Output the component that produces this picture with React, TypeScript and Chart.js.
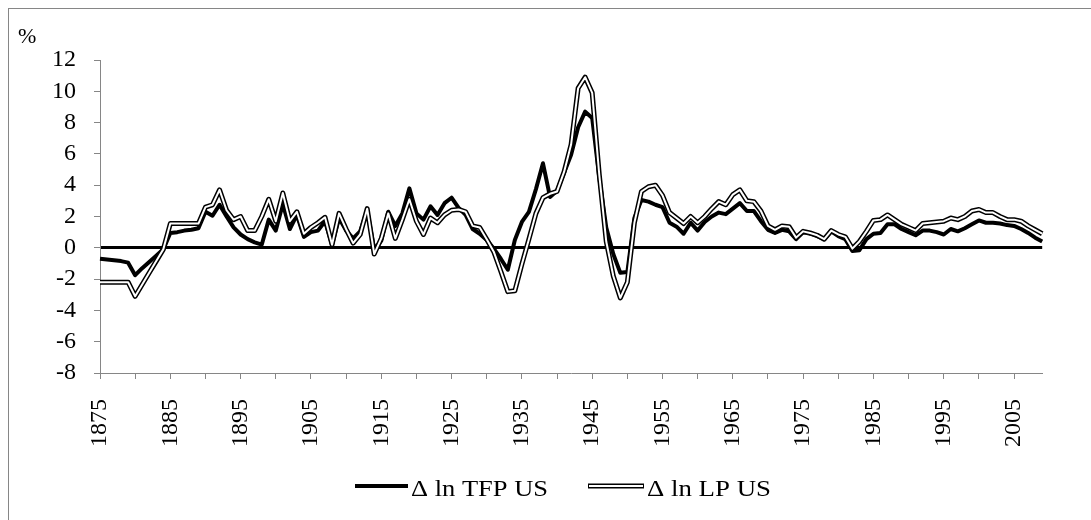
import React, { useEffect, useRef } from "react";
import { Chart, registerables } from "chart.js";

Chart.register(...registerables);

// ---------- data ----------
const START_YEAR = 1875;

// Δ ln TFP US (%), 1875–2009
const TFP_US: number[] = [
  -0.7, -0.75, -0.8, -0.85, -0.95, -1.75, -1.3, -0.9, -0.5, -0.1,
  0.95, 1.0, 1.1, 1.15, 1.25, 2.3, 2.05, 2.75, 2.0, 1.3,
  0.85, 0.55, 0.35, 0.2, 1.8, 1.1, 2.8, 1.2, 2.1, 0.7,
  1.0, 1.1, 1.7, 0.2, 1.9, 1.1, 0.6, 1.05, 2.4, -0.1,
  0.45, 2.3, 1.4, 2.2, 3.8, 2.2, 1.8, 2.65, 2.1, 2.85,
  3.2, 2.55, 2.1, 1.2, 0.9, 0.5, -0.05, -0.7, -1.4, 0.5,
  1.65, 2.3, 3.75, 5.4, 3.25, 3.65, 4.8, 5.95, 7.7, 8.7,
  8.3, 4.5, 1.3, -0.4, -1.6, -1.55, 1.9, 3.05, 2.95, 2.75,
  2.6, 1.6, 1.35, 0.9, 1.6, 1.1, 1.65, 2.0, 2.25, 2.15,
  2.5, 2.85, 2.35, 2.35, 1.7, 1.15, 0.95, 1.15, 1.05, 0.55,
  1.0, 0.9, 0.75, 0.55, 1.05, 0.75, 0.55, -0.2, -0.15, 0.55,
  0.9, 0.95, 1.5, 1.5, 1.2, 1.0, 0.8, 1.1, 1.1, 1.0,
  0.85, 1.2, 1.05, 1.25, 1.5, 1.75, 1.6, 1.6, 1.55, 1.45,
  1.4, 1.2, 0.95, 0.65, 0.4,
];

// Δ ln LP US (%), 1875–2009
const LP_US: number[] = [
  -2.2, -2.2, -2.2, -2.2, -2.2, -3.1, -2.35, -1.6, -0.85, -0.1,
  1.55, 1.55, 1.55, 1.55, 1.55, 2.6, 2.75, 3.7, 2.4, 1.8,
  2.0, 1.1, 1.1, 2.0, 3.1, 1.7, 3.5, 1.7, 2.3, 0.9,
  1.3, 1.6, 1.95, 0.2, 2.2, 1.2, 0.3, 0.85, 2.5, -0.4,
  0.6, 2.2, 0.6, 1.8, 3.1, 1.7, 0.85, 1.9, 1.6, 2.1,
  2.4, 2.45, 2.3, 1.4, 1.3, 0.55, -0.25, -1.5, -2.8, -2.75,
  -1.05, 0.55, 2.2, 3.2, 3.45, 3.6, 4.85, 6.6, 10.2, 10.9,
  9.9, 4.7, 0.4, -1.8, -3.2, -2.2, 1.6, 3.6, 3.9, 4.0,
  3.35, 2.25, 1.9, 1.55, 2.0, 1.6, 2.0, 2.5, 2.95, 2.75,
  3.4, 3.7, 3.0, 2.95, 2.35, 1.4, 1.15, 1.4, 1.35, 0.65,
  1.05, 0.95, 0.8, 0.55, 1.1, 0.85, 0.7, -0.05, 0.4, 1.05,
  1.75, 1.8, 2.1, 1.8, 1.5, 1.3, 1.1, 1.55, 1.6, 1.65,
  1.7, 1.9, 1.8, 2.0, 2.35, 2.45, 2.25, 2.25, 2.0, 1.8,
  1.8, 1.7, 1.4, 1.15, 0.9,
];

const YEARS: number[] = TFP_US.map((_, i) => START_YEAR + i);
const LABEL_EVERY = 10;
const TICK_EVERY = 5;
const Y_MIN = -8;
const Y_MAX = 12;
const Y_STEP = 2;
const TFP_NAME = "\u0394 ln TFP US";
const LP_NAME = "\u0394 ln LP US";
const UNIT = "%";

// ---------- styling ----------
const AXIS = "#868686";

function pickSerif(): { family: string; scale: number } {
  const ctx = document.createElement("canvas").getContext("2d");
  const dejavu = '"DejaVu Serif"';
  if (!ctx) return { family: dejavu, scale: 0.82 };
  const sample = "1995 %\u0394 ln TFP US 1234567890";
  const w = (f: string) => {
    ctx.font = `40px ${f}`;
    return ctx.measureText(sample).width;
  };
  const mono = w("monospace");
  const dv = w(dejavu);
  const cands = ['"Liberation Serif"', '"Times New Roman"', "Tinos", '"Nimbus Roman"', "FreeSerif", "Times"];
  for (const f of cands) {
    const x = w(`${f}, monospace`);
    if (Math.abs(x - mono) > 0.5 && Math.abs(x - dv) > 0.5) return { family: `${f}, serif`, scale: 1 };
  }
  return { family: `${dejavu}, serif`, scale: 0.82 };
}

export default function App() {
  const ref = useRef<HTMLCanvasElement>(null);

  useEffect(() => {
    const canvas = ref.current;
    if (!canvas) return;
    const { family: SERIF, scale } = pickSerif();
    const tickSize = Math.round(24 * scale);
    const unitSize = Math.round(22 * scale);
    const legendSize = Math.round(24 * scale);

    const overlay = {
      id: "overlay",
      afterDraw(c: any) {
        const ctx = c.ctx as CanvasRenderingContext2D;
        ctx.save();
        ctx.fillStyle = "#000";
        ctx.font = `${unitSize}px ${SERIF}`;
        ctx.textBaseline = "alphabetic";
        ctx.textAlign = "left";
        ctx.fillText(UNIT, 18, 43);

        const ly = 486;
        ctx.lineCap = "butt";
        ctx.strokeStyle = "#000";
        ctx.lineWidth = 4;
        ctx.beginPath();
        ctx.moveTo(355, ly);
        ctx.lineTo(408, ly);
        ctx.stroke();
        ctx.lineWidth = 5;
        ctx.beginPath();
        ctx.moveTo(588, ly);
        ctx.lineTo(644, ly);
        ctx.stroke();
        ctx.strokeStyle = "#fff";
        ctx.lineWidth = 2;
        ctx.beginPath();
        ctx.moveTo(589, ly);
        ctx.lineTo(643, ly);
        ctx.stroke();

        ctx.font = `${legendSize}px ${SERIF}`;
        ctx.fillStyle = "#000";
        const drawFit = (t: string, x: number, y: number, target: number) => {
          const m = ctx.measureText(t).width || 1;
          const sx = Math.max(0.8, Math.min(1.25, target / m));
          ctx.save();
          ctx.translate(x, y);
          ctx.scale(sx, 1);
          ctx.fillText(t, 0, 0);
          ctx.restore();
        };
        drawFit(TFP_NAME, 411, 496, 137);
        drawFit(LP_NAME, 647, 496, 124);
        ctx.restore();
      },
    };

    const chart = new Chart(canvas, {
      type: "line",
      data: {
        labels: YEARS.map(String),
        datasets: [
          {
            label: LP_NAME,
            data: LP_US,
            borderColor: "#ffffff",
            borderWidth: 2,
            pointRadius: 0,
            tension: 0,
            borderJoinStyle: "round",
            fill: false,
          },
          {
            label: LP_NAME + " (outline)",
            data: LP_US,
            borderColor: "#000000",
            borderWidth: 5,
            pointRadius: 0,
            tension: 0,
            borderJoinStyle: "round",
            fill: false,
          },
          {
            label: TFP_NAME,
            data: TFP_US,
            borderColor: "#000000",
            borderWidth: 4,
            pointRadius: 0,
            tension: 0,
            borderJoinStyle: "round",
            fill: false,
          },
        ],
      },
      options: {
        responsive: false,
        animation: false,
        devicePixelRatio: 1,
        layout: { padding: { left: 0, top: 60, right: 20, bottom: 47 } },
        plugins: {
          legend: { display: false },
          tooltip: { enabled: false },
        },
        scales: {
          x: {
            type: "category",
            offset: false,
            grid: {
              drawOnChartArea: false,
              color: "transparent",
              tickLength: 6,
              tickWidth: 1,
              tickColor: (c: any) => (c.index % TICK_EVERY === 0 ? AXIS : "transparent"),
            },
            border: { color: AXIS, width: 1 },
            ticks: {
              autoSkip: false,
              minRotation: 90,
              maxRotation: 90,
              padding: 20,
              color: "#000",
              font: { family: SERIF, size: tickSize },
              callback: (_v: any, i: number) =>
                (YEARS[i] - START_YEAR) % LABEL_EVERY === 0 ? String(YEARS[i]) : "",
            },
            afterFit: (s: any) => {
              s.height = 100;
            },
          },
          y: {
            min: Y_MIN,
            max: Y_MAX,
            ticks: {
              stepSize: Y_STEP,
              autoSkip: false,
              padding: 18,
              color: "#000",
              font: { family: SERIF, size: tickSize },
            },
            grid: {
              color: (c: any) => (c.tick && c.tick.value === 0 ? "#000" : "transparent"),
              lineWidth: (c: any) => (c.tick && c.tick.value === 0 ? 3 : 1),
              tickColor: AXIS,
              tickWidth: 1,
              tickLength: 6,
            },
            border: { color: AXIS, width: 1 },
            afterFit: (s: any) => {
              s.width = 100;
            },
          },
        },
      } as any,
      plugins: [overlay],
    });

    return () => chart.destroy();
  }, []);

  return (
    <div>
      <div
        style={{
          position: "fixed",
          left: 8,
          top: 8,
          width: 1200,
          height: 700,
          borderTop: `1px solid ${AXIS}`,
          borderLeft: `1px solid ${AXIS}`,
          pointerEvents: "none",
        }}
      />
      <canvas
        ref={ref}
        width={1091}
        height={520}
        style={{ position: "fixed", left: 0, top: 0, width: 1091, height: 520 }}
      />
    </div>
  );
}
